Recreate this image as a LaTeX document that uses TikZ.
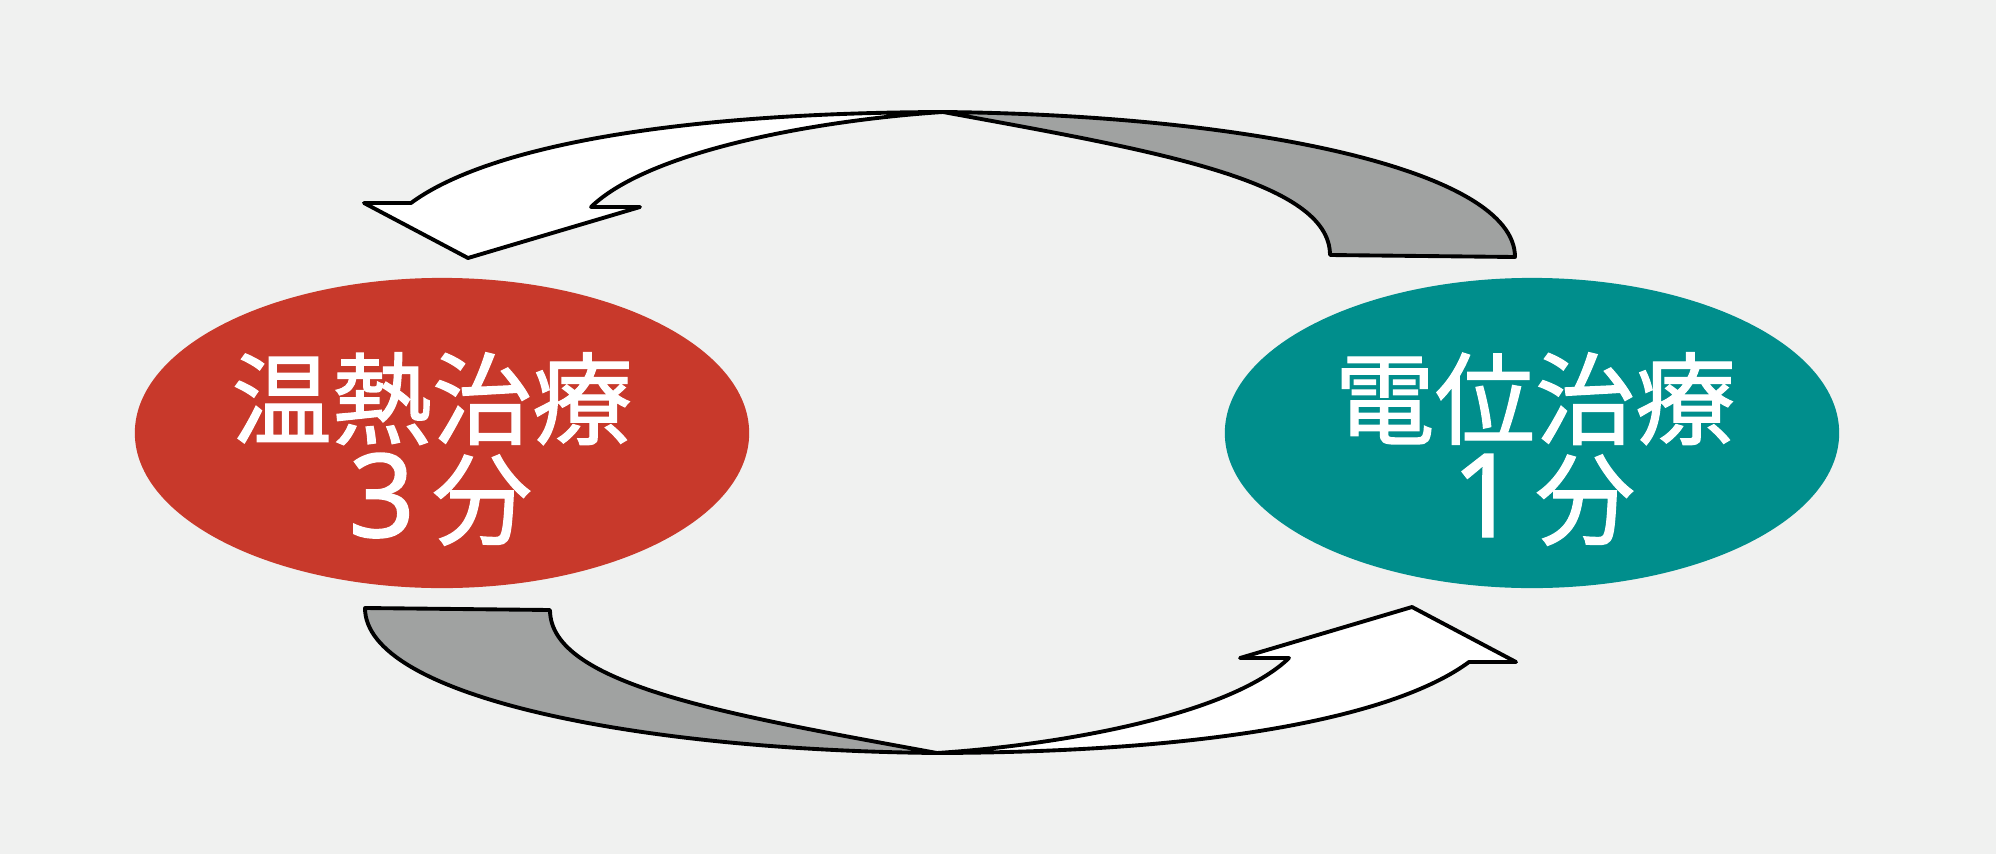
\documentclass[tikz,border=0pt]{standalone}
\usepackage{fontspec}
\usepackage{xcolor}
\usepackage{tikz}
\usetikzlibrary{positioning, shapes.geometric}

\newfontfamily\jpfont[FakeBold=1.2]{Noto Sans CJK JP}
\newfontfamily\digitfont[FakeBold=1.2]{Noto Sans}
\newcommand{\minutes}[1]{\makebox[1em]{\digitfont\fontsize{33pt}{28.5pt}\selectfont #1}分}
\definecolor{paper}{RGB}{240,241,240}
\definecolor{heatred}{RGB}{200,57,43}
\definecolor{potteal}{RGB}{0,142,140}
\definecolor{tailgray}{RGB}{160,162,161}

\begin{document}
\begin{tikzpicture}[x=0.01cm, y=-0.01cm,
    blob/.style={ellipse, minimum width=6.14cm, minimum height=3.1cm, inner sep=0pt},
    caption/.style={text=white, font=\jpfont\fontsize{28.5pt}{28.5pt}\selectfont, align=center, inner sep=0pt},
    loopshape/.style={draw=black, line width=1.1pt, line join=round}]
        \fill[paper] (0,0) rectangle (1996,854);
        \useasboundingbox (0,0) rectangle (1996,854);

        \node[blob, fill=heatred] (heat) at (442,433) {};
        \node[blob, fill=potteal] (pot) at (1532,433) {};

        \node[caption] (heattxt) at (432,449) {温熱治療\\\minutes{3}};
        \node[caption] (pottxt) at (1535,449) {電位治療\\\minutes{1}};

        % two cycle arrows, the lower one is the upper one turned round
        \foreach \turn in {0,180} {
          \begin{scope}[rotate around={\turn:(940,432.5)}]
            \filldraw[loopshape, fill=tailgray] (943,112) .. controls (1250,115) and (1515,170) .. (1515,257)
              -- (1330,255) .. controls (1330,180) and (1150,150) .. (943,112) -- cycle;
            \filldraw[loopshape, fill=white] (943,112) .. controls (650,113) and (480,152) .. (411,203)
              -- (364,203) -- (468,258) -- (640,207) -- (591,207)
              .. controls (650,150) and (820,120) .. (943,112) -- cycle;
          \end{scope}
        }
      \end{tikzpicture}
\end{document}
